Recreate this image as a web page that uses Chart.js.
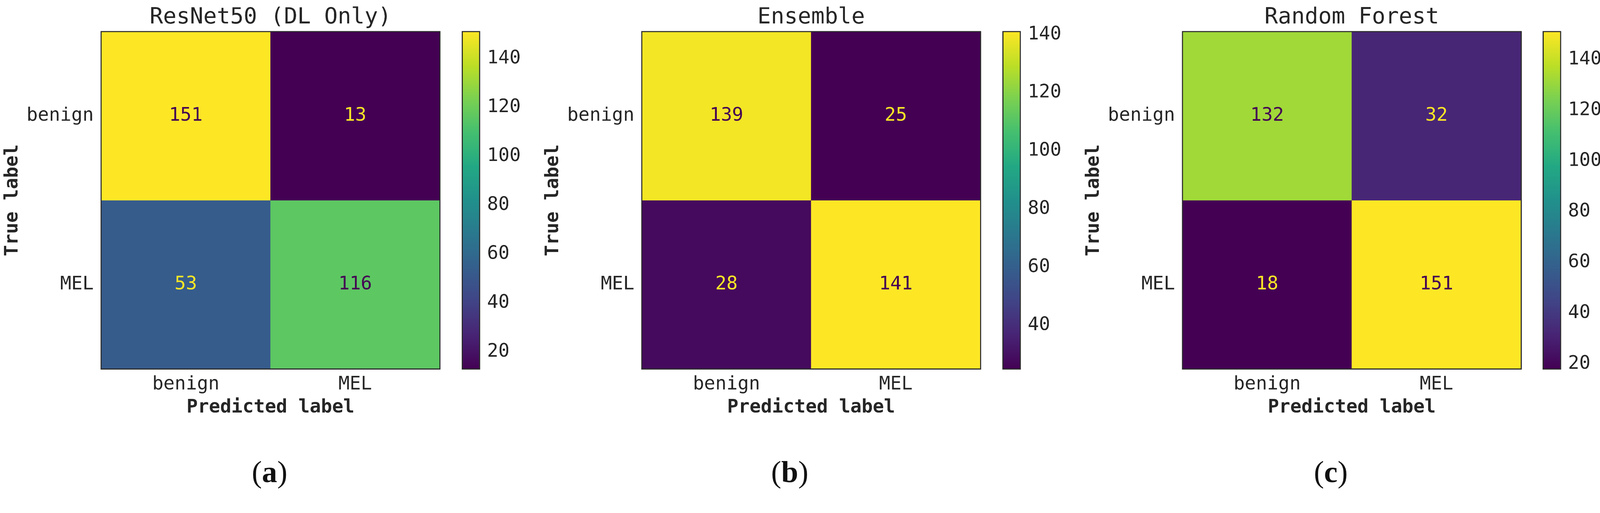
<!DOCTYPE html>
<html>
<head>
<meta charset="utf-8">
<script src="https://cdn.jsdelivr.net/npm/chart.js@4/dist/chart.umd.min.js"></script>
<style>
  html, body { margin: 0; background: #fff; overflow: hidden; }
  #page { position: absolute; left: 0; top: 0; width: 4303px; height: 1313px; transform-origin: 0 0; }
  canvas { position: absolute; top: 0; }
  .sub { position: absolute; top: 1222px; width: 200px; margin-left: -100px; text-align: center;
         font-family: "Liberation Serif", serif; font-size: 82px; color: #111; }
  .sub b { font-weight: bold; }
</style>
</head>
<body>
<div id="page">
<canvas id="heat0" style="left:0px" width="1215" height="1140"></canvas>
<canvas id="bar0" style="left:1230px" width="180" height="1140"></canvas>
<canvas id="heat1" style="left:1454px" width="1215" height="1140"></canvas>
<canvas id="bar1" style="left:2684px" width="180" height="1140"></canvas>
<canvas id="heat2" style="left:2908px" width="1215" height="1140"></canvas>
<canvas id="bar2" style="left:4137px" width="166" height="1140"></canvas>
<div class="sub" style="left:725px">(<b>a</b>)</div>
<div class="sub" style="left:2124px">(<b>b</b>)</div>
<div class="sub" style="left:3579px">(<b>c</b>)</div>
</div>
<script>
const classes = ["benign", "MEL"];
const titles = ["ResNet50 (DL Only)", "Ensemble", "Random Forest"];
const resnetMatrix = [[151, 13], [53, 116]];
const ensembleMatrix = [[139, 25], [28, 141]];
const forestMatrix = [[132, 32], [18, 151]];
const matrices = [resnetMatrix, ensembleMatrix, forestMatrix];

const FONT = "'DejaVu Sans Mono', monospace";
const TEXT = "#262626";
const viridis = ["#440154", "#482475", "#414487", "#355f8d", "#2a788e", "#21918c",
                 "#22a884", "#44bf70", "#7ad151", "#bddf26", "#fde725"];

// fit the fixed 4303x1313 layout into whatever viewport we get
const fit = Math.min(window.innerWidth / 4303, window.innerHeight / 1313);
document.getElementById("page").style.transform = "scale(" + fit + ")";

function hexRgb(h) {
  return [1, 3, 5].map((i) => parseInt(h.substr(i, 2), 16));
}

function cmap(t) {
  t = Math.max(0, Math.min(1, t)) * 10;
  const i = Math.min(9, Math.floor(t));
  const a = hexRgb(viridis[i]), b = hexRgb(viridis[i + 1]);
  const f = t - i;
  return "rgb(" + a.map((v, k) => Math.round(v + (b[k] - v) * f)).join(",") + ")";
}

const borderPlugin = {
  id: "border",
  afterDraw(chart) {
    const a = chart.chartArea, c = chart.ctx;
    c.save();
    c.strokeStyle = "#2b2b2b";
    c.lineWidth = 3;
    c.strokeRect(a.left, a.top, a.right - a.left, a.bottom - a.top);
    c.restore();
  },
};

function makeHeatmap(idx) {
  const m = matrices[idx];
  const flat = m.flat();
  const lo = Math.min(...flat), hi = Math.max(...flat);
  const thresh = (lo + hi) / 2;
  const datasets = m.map((row, r) => ({
    data: row.map(() => [r, r + 1]),
    backgroundColor: row.map((v) => cmap((v - lo) / (hi - lo))),
    barPercentage: 1,
    categoryPercentage: 1,
    grouped: false,
  }));

  const valuePlugin = {
    id: "values",
    afterDatasetsDraw(chart) {
      const c = chart.ctx;
      c.save();
      c.font = "50px " + FONT;
      c.textAlign = "center";
      c.textBaseline = "middle";
      chart.data.datasets.forEach((ds, r) => {
        chart.getDatasetMeta(r).data.forEach((el, col) => {
          const v = m[r][col];
          c.fillStyle = v < thresh ? viridis[10] : viridis[0];
          c.fillText(String(v), el.x, (el.y + el.base) / 2);
        });
      });
      c.font = "60px " + FONT;
      c.fillStyle = TEXT;
      c.textBaseline = "alphabetic";
      const a = chart.chartArea;
      c.fillText(titles[idx], (a.left + a.right) / 2, a.top - 22);
      c.restore();
    },
  };

  new Chart(document.getElementById("heat" + idx), {
    type: "bar",
    data: { labels: classes, datasets: datasets },
    plugins: [valuePlugin, borderPlugin],
    options: {
      responsive: false,
      animation: false,
      devicePixelRatio: 2,
      layout: { padding: { top: 85, right: 32 } },
      plugins: { legend: { display: false }, tooltip: { enabled: false } },
      scales: {
        x: {
          grid: { display: false },
          border: { display: false },
          ticks: { color: TEXT, font: { family: FONT, size: 50 }, padding: 4 },
          title: { display: true, text: "Predicted label", color: TEXT,
                   font: { family: FONT, size: 50, weight: "bold" }, padding: { top: 0, bottom: 14 } },
          afterFit: (s) => { s.height = 148; },
        },
        y: {
          min: 0, max: 2, reverse: true,
          grid: { display: false },
          border: { display: false },
          afterBuildTicks: (s) => { s.ticks = [{ value: 0.5 }, { value: 1.5 }]; },
          ticks: { color: TEXT, font: { family: FONT, size: 50 }, padding: 12,
                   callback: (v) => classes[Math.floor(v)] },
          title: { display: true, text: "True label", color: TEXT,
                   font: { family: FONT, size: 50, weight: "bold" }, padding: { top: 4, bottom: 0 } },
          afterFit: (s) => { s.width = 272; },
        },
      },
    },
  });

  new Chart(document.getElementById("bar" + idx), {
    type: "bar",
    data: {
      labels: [""],
      datasets: [{
        data: [[lo, hi]],
        barPercentage: 1,
        categoryPercentage: 1,
        backgroundColor: (ctx) => {
          const a = ctx.chart.chartArea;
          if (!a) return viridis[5];
          const g = ctx.chart.ctx.createLinearGradient(0, a.bottom, 0, a.top);
          for (let i = 0; i <= 20; i++) g.addColorStop(i / 20, cmap(i / 20));
          return g;
        },
      }],
    },
    plugins: [borderPlugin],
    options: {
      responsive: false,
      animation: false,
      devicePixelRatio: 2,
      layout: { padding: { top: 85, bottom: 148, left: 13 } },
      plugins: { legend: { display: false }, tooltip: { enabled: false } },
      scales: {
        x: { display: false },
        y: {
          position: "right",
          min: lo, max: hi,
          grid: { display: false },
          border: { display: false },
          afterBuildTicks: (s) => {
            const t = [];
            for (let v = 20; v <= hi; v += 20) if (v >= lo) t.push({ value: v });
            s.ticks = t;
          },
          ticks: { color: TEXT, font: { family: FONT, size: 50 }, padding: 12 },
          afterFit: (s) => { s.width = s.chart.width - 13 - 47; },
        },
      },
    },
  });
}

[0, 1, 2].forEach(makeHeatmap);
</script>
</body>
</html>
